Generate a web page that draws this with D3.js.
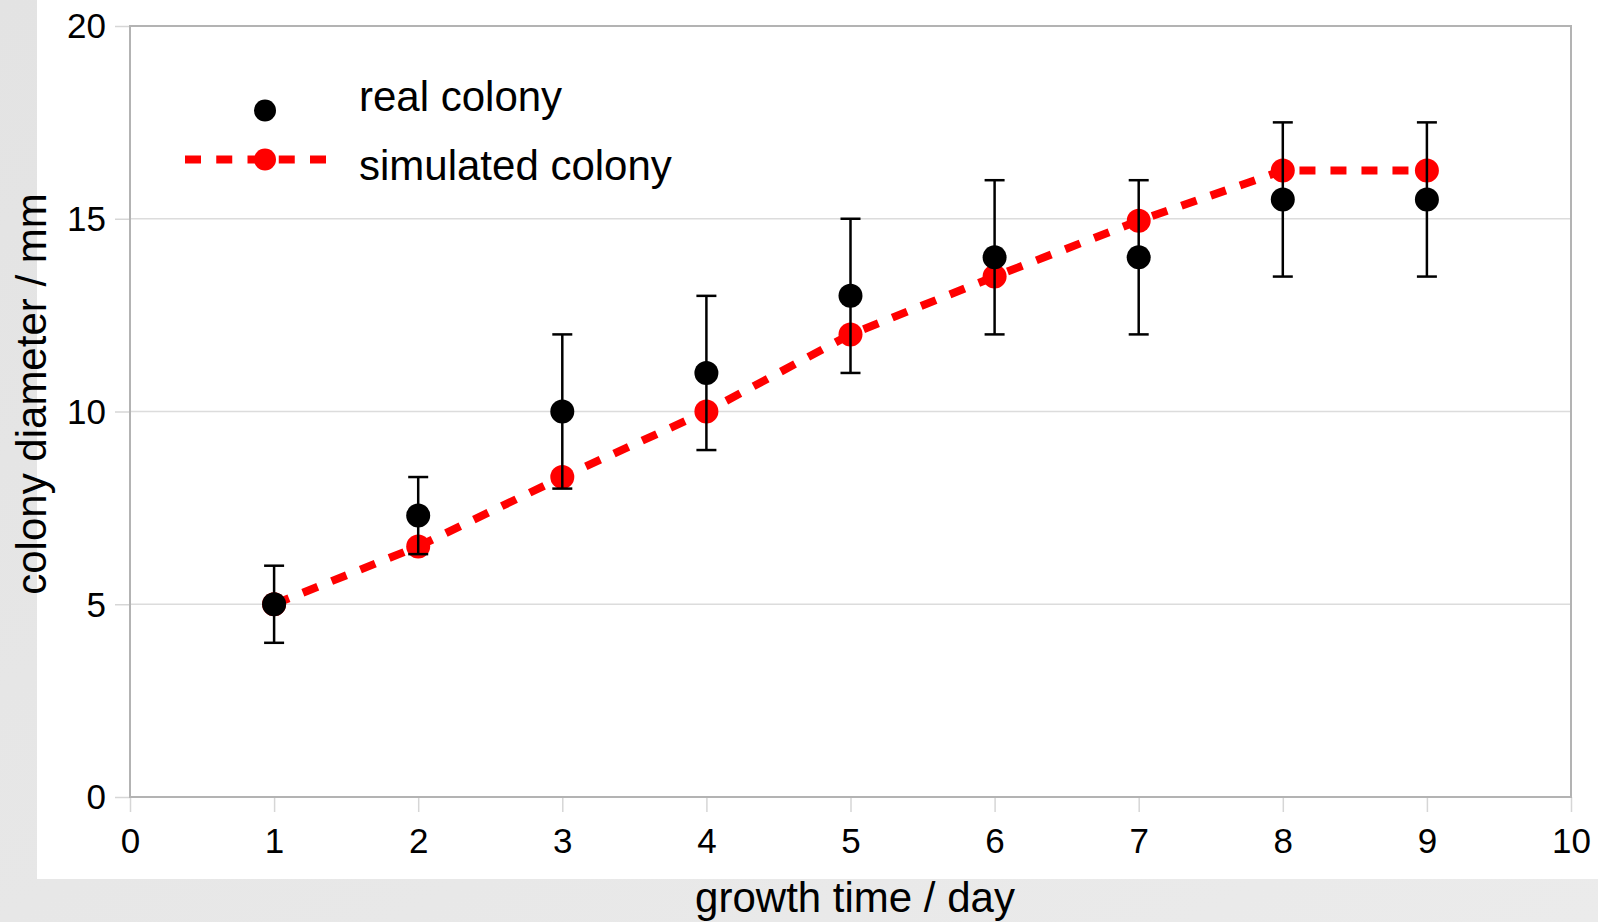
<!DOCTYPE html>
<html>
<head>
<meta charset="utf-8">
<script src="https://cdn.jsdelivr.net/npm/d3@7"></script>
<style>
  html, body { margin: 0; padding: 0; background: #e6e6e6; }
  svg { display: block; font-family: "Liberation Sans", Arial, sans-serif; }
</style>
</head>
<body>
<svg id="chart" width="1598" height="922"></svg>
<script>
// ---- data ----
const days = [1, 2, 3, 4, 5, 6, 7, 8, 9];
const realMean = [5, 7.3, 10, 11, 13, 14, 14, 15.5, 15.5];
const realLow  = [4, 6.3, 8, 9, 11, 12, 12, 13.5, 13.5];
const realHigh = [6, 8.3, 12, 13, 15, 16, 16, 17.5, 17.5];
const simulated = [5, 6.5, 8.3, 10, 12, 13.5, 14.95, 16.25, 16.25];
const xTicks = [0, 1, 2, 3, 4, 5, 6, 7, 8, 9, 10];
const yTicks = [0, 5, 10, 15, 20];
const legendLabels = ["real colony", "simulated colony"];
const xTitle = "growth time / day";
const yTitle = "colony diameter / mm";

// ---- layout ----
const svg = d3.select("#chart");
const W = 1598, H = 922;
const plot = { left: 130, top: 26, right: 1571, bottom: 797 };

// background
const defs = svg.append("defs");
const grad = defs.append("linearGradient").attr("id", "bg").attr("x1", "0").attr("y1", "0").attr("x2", "1").attr("y2", "1");
grad.append("stop").attr("offset", "0").attr("stop-color", "#e3e3e3");
grad.append("stop").attr("offset", "1").attr("stop-color", "#ebebeb");
svg.append("rect").attr("width", W).attr("height", H).attr("fill", "url(#bg)");
svg.append("rect").attr("x", 37).attr("y", 0).attr("width", W - 37).attr("height", 879).attr("fill", "#ffffff");

const x = d3.scaleLinear().domain([0, 10]).range([plot.left, plot.right]);
const y = d3.scaleLinear().domain([0, 20]).range([plot.bottom, plot.top]);

// gridlines
svg.append("g").selectAll("line").data(yTicks.filter(d => d > 0 && d < 20)).join("line")
  .attr("x1", plot.left).attr("x2", plot.right)
  .attr("y1", d => y(d)).attr("y2", d => y(d))
  .attr("stroke", "#dcdcdc").attr("stroke-width", 1.3);

// axes
const yAxis = svg.append("g").attr("transform", `translate(${plot.left},0)`)
  .call(d3.axisLeft(y).tickValues(yTicks).tickSize(15).tickPadding(9).tickFormat(d3.format("d")));
const xAxis = svg.append("g").attr("transform", `translate(0,${plot.bottom})`)
  .call(d3.axisBottom(x).tickValues(xTicks).tickSize(15).tickPadding(16).tickFormat(d3.format("d")));
[yAxis, xAxis].forEach(g => {
  g.select(".domain").remove();
  g.selectAll(".tick line").attr("stroke", "#d6d6d6").attr("stroke-width", 1.5);
  g.selectAll(".tick text").attr("fill", "#000").style("font-size", "35px")
    .style("font-family", "'Liberation Sans', Arial, sans-serif");
});
yAxis.selectAll(".tick text").attr("dy", "0.34em");
xAxis.selectAll(".tick text").attr("dy", "0.72em");

// frame
svg.append("rect")
  .attr("x", plot.left).attr("y", plot.top)
  .attr("width", plot.right - plot.left).attr("height", plot.bottom - plot.top)
  .attr("fill", "none").attr("stroke", "#b3b3b3").attr("stroke-width", 2);

// simulated line
const simData = days.map((d, i) => ({ x: d, y: simulated[i] }));
svg.append("path").datum(simData)
  .attr("d", d3.line().x(d => x(d.x)).y(d => y(d.y)))
  .attr("fill", "none").attr("stroke", "#ff0000").attr("stroke-width", 8)
  .attr("stroke-dasharray", "16 15");
svg.append("g").selectAll("circle").data(simData).join("circle")
  .attr("cx", d => x(d.x)).attr("cy", d => y(d.y)).attr("r", 12).attr("fill", "#ff0000");

// real colony error bars
const realData = days.map((d, i) => ({ x: d, m: realMean[i], lo: realLow[i], hi: realHigh[i] }));
const eb = svg.append("g").attr("stroke", "#000").attr("stroke-width", 2.5);
eb.selectAll("line.v").data(realData).join("line").attr("class", "v")
  .attr("x1", d => x(d.x)).attr("x2", d => x(d.x))
  .attr("y1", d => y(d.lo)).attr("y2", d => y(d.hi));
eb.selectAll("line.t").data(realData).join("line").attr("class", "t")
  .attr("x1", d => x(d.x) - 10).attr("x2", d => x(d.x) + 10)
  .attr("y1", d => y(d.hi)).attr("y2", d => y(d.hi));
eb.selectAll("line.b").data(realData).join("line").attr("class", "b")
  .attr("x1", d => x(d.x) - 10).attr("x2", d => x(d.x) + 10)
  .attr("y1", d => y(d.lo)).attr("y2", d => y(d.lo));
svg.append("g").selectAll("circle").data(realData).join("circle")
  .attr("cx", d => x(d.x)).attr("cy", d => y(d.m)).attr("r", 12).attr("fill", "#000");

// legend
const lg = svg.append("g");
lg.append("circle").attr("cx", 265).attr("cy", 110.5).attr("r", 11).attr("fill", "#000");
lg.append("line").attr("x1", 185).attr("x2", 326).attr("y1", 159.5).attr("y2", 159.5)
  .attr("stroke", "#ff0000").attr("stroke-width", 8).attr("stroke-dasharray", "16 15.25");
lg.append("circle").attr("cx", 265).attr("cy", 159.5).attr("r", 11).attr("fill", "#ff0000");
lg.selectAll("text").data(legendLabels).join("text")
  .attr("x", 359).attr("y", (d, i) => i === 0 ? 110.5 : 180)
  .attr("fill", "#000").style("font-size", "42px").text(d => d);

// axis titles
svg.append("text").attr("x", 855).attr("y", 912).attr("text-anchor", "middle")
  .attr("fill", "#000").style("font-size", "42px").text(xTitle);
svg.append("text").attr("transform", "translate(46,394) rotate(-90)").attr("text-anchor", "middle")
  .attr("fill", "#000").style("font-size", "42px").text(yTitle);
</script>
</body>
</html>
